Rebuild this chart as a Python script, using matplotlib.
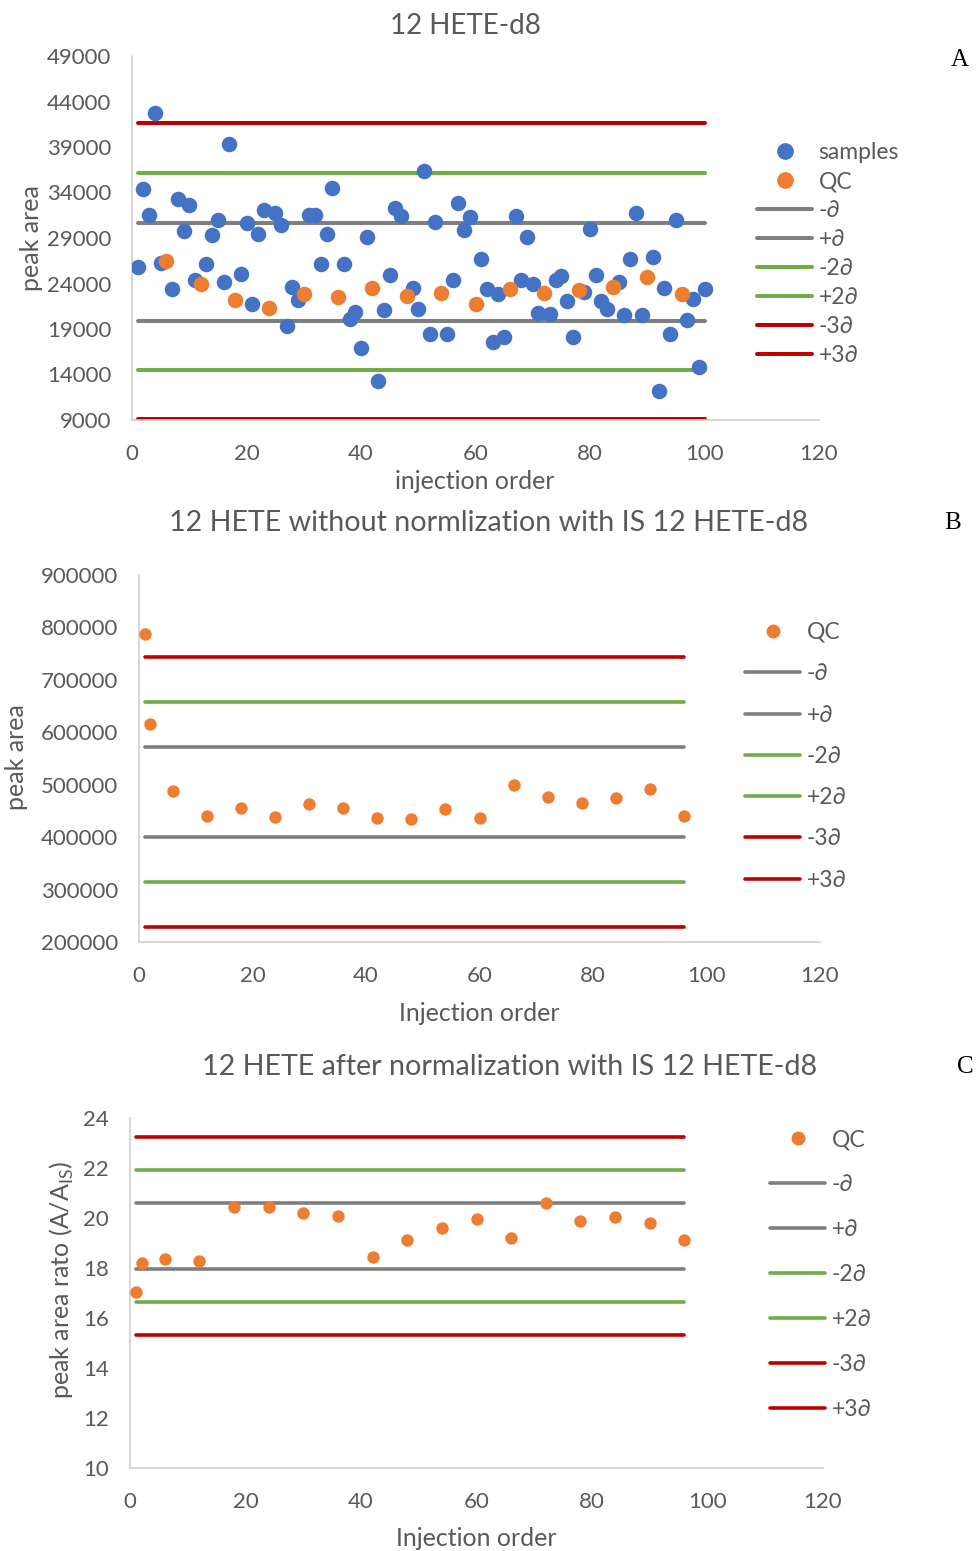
import matplotlib.pyplot as plt
from matplotlib.lines import Line2D

plt.rcParams['font.family'] = ['Lato', 'DejaVu Sans']

# ---- data ----
sample_x = [1, 2, 3, 4, 5, 7, 8, 9, 10, 11, 13, 14, 15, 16, 17, 19, 20, 21, 22, 23,
            25, 26, 27, 28, 29, 31, 32, 33, 34, 35, 37, 38, 39, 40, 41, 43, 44, 45, 46, 47,
            49, 50, 51, 52, 53, 55, 56, 57, 58, 59, 61, 62, 63, 64, 65, 67, 68, 69, 70, 71,
            73, 74, 75, 76, 77, 79, 80, 81, 82, 83, 85, 86, 87, 88, 89, 91, 92, 93, 94, 95,
            97, 98, 99, 100]
sample_area = [25850, 34350, 31500, 42700, 26200, 23350, 33300, 29750, 32650, 24400,
               26150, 29350, 30950, 24150, 39350, 25000, 30700, 21800, 29400, 32100,
               31700, 30450, 19300, 23600, 22200, 31500, 31500, 26100, 29450, 34500,
               26100, 20050, 20900, 16950, 29100, 13300, 21050, 24900, 32350, 31450,
               23500, 21200, 36350, 18450, 30800, 18450, 24400, 32900, 29850, 31300,
               26700, 23350, 17550, 22900, 18150, 31450, 24350, 29150, 24000, 20800,
               20700, 24400, 24800, 22050, 18100, 23050, 30000, 24950, 22050, 21250,
               24150, 20500, 26700, 31800, 20550, 26950, 12200, 23550, 18400, 30950,
               19950, 22300, 14800, 23400]

qc_x_a = [6, 12, 18, 24, 30, 36, 42, 48, 54, 60, 66, 72, 78, 84, 90, 96]
qc_area_a = [26450, 23950, 22200, 21350, 22900, 22550, 23550, 22650,
             23000, 21800, 23450, 23000, 23300, 23600, 24700, 22900]

qc_x = [1, 2, 6, 12, 18, 24, 30, 36, 42, 48, 54, 60, 66, 72, 78, 84, 90, 96]
qc_area_b = [787500, 615300, 487500, 439800, 456300, 438500, 463900, 455900, 436800,
             435500, 453500, 436100, 498900, 476000, 464600, 475000, 490900, 439500]
qc_ratio_c = [17.03, 18.19, 18.35, 18.29, 20.45, 20.45, 20.21, 20.10, 18.45,
              19.11, 19.61, 19.95, 19.20, 20.61, 19.89, 20.04, 19.79, 19.11]

limit_labels = ['-\u2202', '+\u2202', '-2\u2202', '+2\u2202', '-3\u2202', '+3\u2202']
limits_a = [19900, 30700, 14500, 36100, 9100, 41600]
limits_b = [400300, 572000, 314500, 657800, 228700, 743600]
limits_c = [17.96, 20.60, 16.64, 21.92, 15.32, 23.24]
limit_span_a = [1, 100]
limit_span_bc = [1, 96]

# ---- style ----
BLUE = '#4472C4'
ORANGE = '#ED7D31'
limit_colors = ['#7F7F7F', '#7F7F7F', '#70AD47', '#70AD47', '#C00000', '#C00000']
TXT = '#595959'
FS = 16        # tick labels
FS_LAB = 18    # axis labels
FS_LEG = 16.5  # legend

W, H = 976, 1551
fig = plt.figure(figsize=(W / 100, H / 100), dpi=100)


def axes_px(x0, x1, y_top, y_bot):
    return fig.add_axes([x0 / W, 1 - y_bot / H, (x1 - x0) / W, (y_bot - y_top) / H])


def style(ax):
    for s in ['top', 'right']:
        ax.spines[s].set_visible(False)
    for s in ['left', 'bottom']:
        ax.spines[s].set_color('#D0D0D0')
        ax.spines[s].set_linewidth(1.2)
    ax.tick_params(length=0, labelsize=FS, colors=TXT)
    ax.tick_params(axis='y', pad=15)
    ax.tick_params(axis='x', pad=17.5)
    ax.set_xlim(0, 120)
    ax.set_xticks(range(0, 121, 20))


def draw_limits(ax, vals, span, lw):
    for v, c in zip(vals, limit_colors):
        ax.plot(span, [v, v], color=c, lw=lw, solid_capstyle='round', zorder=1)


def legend(ax, handles, labels, x_px, y_px, spacing):
    ax.legend(handles, labels, loc='upper left', bbox_to_anchor=(x_px / W, 1 - y_px / H),
              bbox_transform=fig.transFigure, frameon=False, fontsize=FS_LEG,
              labelcolor=TXT, handlelength=2.4, handletextpad=0.28,
              labelspacing=spacing, borderpad=0, borderaxespad=0)


def limit_handles(lw):
    return [Line2D([0], [0], color=c, lw=lw, solid_capstyle='round') for c in limit_colors]


# ---- panel A ----
axA = axes_px(132, 819, 56, 420)
style(axA)
draw_limits(axA, limits_a, limit_span_a, 2.9)
axA.scatter(sample_x, sample_area, s=125, color=BLUE, zorder=3, linewidths=0)
axA.scatter(qc_x_a, qc_area_a, s=125, color=ORANGE, zorder=4, linewidths=0)
axA.set_ylim(9000, 49000)
axA.set_yticks(range(9000, 49001, 5000))
axA.set_xlabel('injection order', fontsize=FS_LAB, color=TXT, va='center')
axA.xaxis.set_label_coords(0.499, -0.170)
axA.set_ylabel('peak area', fontsize=FS_LAB, color=TXT, va='center')
axA.yaxis.set_label_coords(-0.1456, 0.5)
axA.text(0.485, 1.082, '12 HETE-d8', transform=axA.transAxes, ha='center', va='center',
         fontsize=20, color=TXT)
hA = [Line2D([0], [0], ls='', marker='o', ms=11, color=BLUE),
      Line2D([0], [0], ls='', marker='o', ms=11, color=ORANGE)] + limit_handles(2.9)
legend(axA, hA, ['samples', 'QC'] + limit_labels, 757, 142, 0.35)
fig.text(960 / W, 1 - 60 / H, 'A', fontsize=18, family='Liberation Serif',
         ha='center', va='center')

# ---- panel B ----
axB = axes_px(139, 820, 575, 942)
style(axB)
draw_limits(axB, limits_b, limit_span_bc, 2.6)
axB.scatter(qc_x, qc_area_b, s=80, color=ORANGE, zorder=4, linewidths=0)
axB.set_ylim(200000, 900000)
axB.set_yticks(range(200000, 900001, 100000))
axB.set_xlabel('Injection order', fontsize=FS_LAB, color=TXT, va='center')
axB.xaxis.set_label_coords(0.5, -0.1935)
axB.set_ylabel('peak area', fontsize=FS_LAB, color=TXT, va='center')
axB.yaxis.set_label_coords(-0.1806, 0.504)
axB.text(0.513, 1.142, '12 HETE without normlization with IS 12 HETE-d8',
         transform=axB.transAxes, ha='center', va='center', fontsize=20.6, color=TXT)
hB = [Line2D([0], [0], ls='', marker='o', ms=9, color=ORANGE)] + limit_handles(2.6)
legend(axB, hB, ['QC'] + limit_labels, 745, 622, 0.885)
fig.text(953 / W, 1 - 523 / H, 'B', fontsize=18, family='Liberation Serif',
         ha='center', va='center')

# ---- panel C ----
axC = axes_px(130, 823, 1118, 1468)
style(axC)
draw_limits(axC, limits_c, limit_span_bc, 2.6)
axC.scatter(qc_x, qc_ratio_c, s=80, color=ORANGE, zorder=4, linewidths=0)
axC.set_ylim(10, 24)
axC.set_yticks(range(10, 25, 2))
axC.set_xlabel('Injection order', fontsize=FS_LAB, color=TXT, va='center')
axC.xaxis.set_label_coords(0.499, -0.2)
axC.set_ylabel('peak area rato (A/A$_{\\mathregular{IS}}$)', fontsize=FS_LAB,
               color=TXT, va='center')
axC.yaxis.set_label_coords(-0.098, 0.537)
axC.text(0.547, 1.146, '12 HETE after normalization with IS 12 HETE-d8',
         transform=axC.transAxes, ha='center', va='center', fontsize=20.6, color=TXT)
hC = [Line2D([0], [0], ls='', marker='o', ms=9, color=ORANGE)] + limit_handles(2.6)
legend(axC, hC, ['QC'] + limit_labels, 770, 1129, 1.05)
fig.text(965 / W, 1 - 1067 / H, 'C', fontsize=18, family='Liberation Serif',
         ha='center', va='center')

fig.savefig('out.png', dpi=100)
